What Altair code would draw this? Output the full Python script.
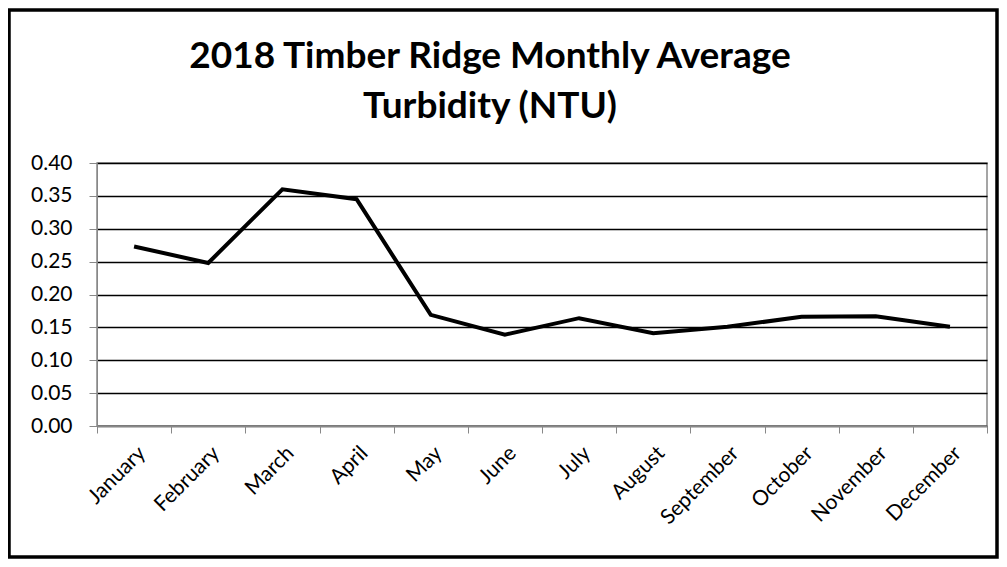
import altair as alt
import pandas as pd

months = ["January", "February", "March", "April", "May", "June", "July",
          "August", "September", "October", "November", "December"]
turbidity = [0.273, 0.248, 0.360, 0.345, 0.169, 0.139, 0.164, 0.141, 0.151, 0.166, 0.167, 0.151]
y_ticks = [0.00, 0.05, 0.10, 0.15, 0.20, 0.25, 0.30, 0.35, 0.40]

df = pd.DataFrame({"Month": months, "NTU": turbidity})

FONT = "Lato"

line = alt.Chart(df).mark_line(color="black", strokeWidth=4).encode(
    x=alt.X("Month:N", sort=months, bandPosition=0.5,
            scale=alt.Scale(type="band", paddingInner=0, paddingOuter=0),
            axis=alt.Axis(title=None, labelAngle=-45, labelFontSize=21, labelFont=FONT,
                          labelColor="black", tickBand="extent", tickColor="#888",
                          tickSize=7, domainColor="#888", grid=False, labelPadding=9)),
    y=alt.Y("NTU:Q", scale=alt.Scale(domain=[0, 0.4], nice=False),
            axis=alt.Axis(title=None, values=y_ticks, format=".2f", labelFontSize=21,
                          labelFont=FONT, labelColor="black", tickColor="#888", tickSize=8,
                          domainColor="#888", gridColor="black", gridOpacity=1,
                          gridWidth=1.3, labelPadding=17)),
)

border = alt.Chart(pd.DataFrame({"a": [0]})).mark_rect(
    fill=None, stroke="black", strokeWidth=3.5
).encode(
    x=alt.value(-88), x2=alt.value(900), y=alt.value(-153), y2=alt.value(394)
)

chart = alt.layer(line, border).properties(
    width=890, height=263,
    padding={"left": 89, "top": 155, "right": 12, "bottom": 133},
    autosize=alt.AutoSizeParams(type="none"),
    title=alt.TitleParams(["2018 Timber Ridge Monthly Average", "Turbidity (NTU)"],
                          font=FONT, fontSize=37, fontWeight="bold", color="black",
                          anchor="middle", frame="group", dx=-52, dy=118, offset=0,
                          lineHeight=50),
).configure_view(stroke="#888", strokeWidth=1.5)

chart.save("out.html", embed_options={"renderer": "svg", "actions": False})
